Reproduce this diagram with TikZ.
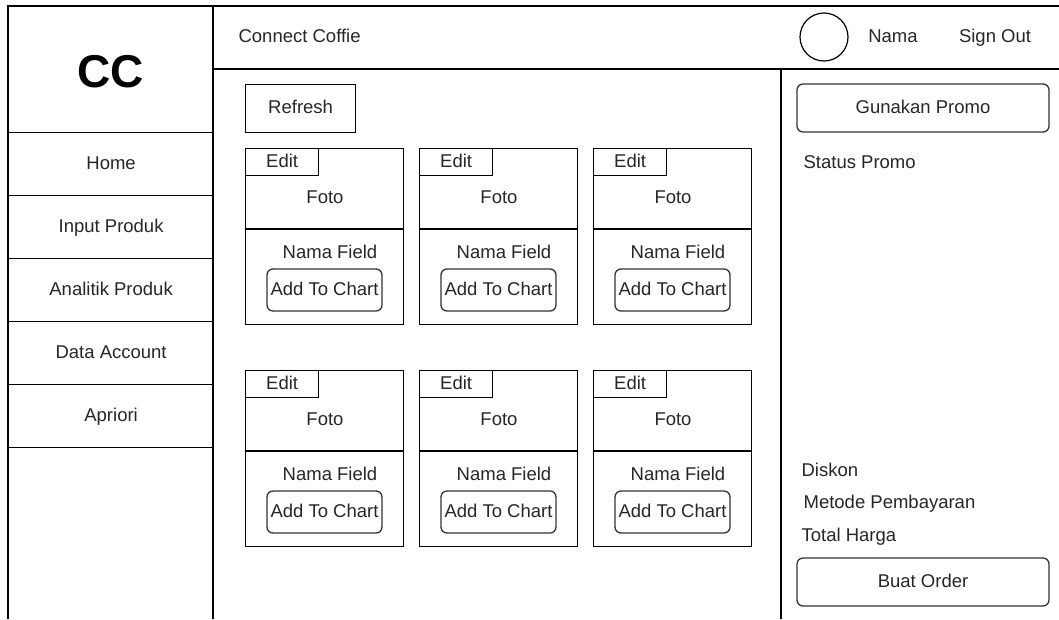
\documentclass[tikz,border=0pt]{standalone}
\usepackage{fontspec}
\setmainfont{Liberation Sans}
\usetikzlibrary{calc}
\begin{document}
\begin{tikzpicture}[x=1pt, y=-1pt, line width=1.2pt,
  ui/.style={font=\fontsize{18.5}{20}\selectfont, text=black!85, text height=13.5pt, text depth=3.5pt},
  lbl/.style={ui, inner sep=0pt},
  frame/.style={draw, ui, inner sep=0pt, anchor=north west},
  menuitem/.style={frame, minimum width=205pt, minimum height=63pt},
  btn/.style={draw=black!80, ui, inner sep=0pt, rounded corners=6pt, line width=1.3pt},
  card/.style={frame, minimum width=158pt, minimum height=176pt},
  tab/.style={frame, minimum width=73pt, minimum height=27pt, fill=white}]
\useasboundingbox (0,0) rectangle (1059,619);

% page frame
\coordinate (tl) at (8,6);
\coordinate (bl) at (8,619);
\coordinate (tr) at (1059,6);
\coordinate (sbt) at (213,6);
\coordinate (sbb) at (213,619);
\coordinate (hdl) at (213,69);
\coordinate (hdr) at (1059,69);
\coordinate (rpt) at (781,69);
\coordinate (rpb) at (781,619);
\draw (bl) -- (tl) -- (tr);
\draw (sbt) -- (sbb);
\draw (hdl) -- (hdr);
\draw (rpt) -- (rpb);

% sidebar
\node[font=\fontsize{46}{48}\selectfont\bfseries, inner sep=0pt] (logo) at (110.5,72) {CC};
\node[menuitem] (home)   at (8,132) {Home};
\node[menuitem] (input)  at (8,195) {Input Produk};
\node[menuitem] (anal)   at (8,258) {Analitik Produk};
\node[menuitem] (data)   at (8,321) {Data Account};
\node[menuitem] (apri)   at (8,384) {Apriori};

% header
\node[lbl, anchor=west] (title) at (238,37) {Connect Coffie};
\node[draw, circle, minimum size=48pt, inner sep=0pt] (avatar) at (824,37) {};
\node[lbl] (nama) at (893,37) {Nama};
\node[lbl] (signout) at (995,37) {Sign Out};

% product area
\node[frame, minimum width=110pt, minimum height=48pt] (refresh) at (245,84) {Refresh};

\foreach \r/\y in {1/148, 2/370} {
  \foreach \c/\x in {1/245, 2/419, 3/593} {
    \node[card] (card\r\c) at (\x,\y) {};
    \node[tab] (edit\r\c) at (\x,\y) {Edit};
    \draw ($(card\r\c.north west)+(0,81)$) -- ($(card\r\c.north east)+(0,81)$);
    \node[lbl] (foto\r\c) at ($(card\r\c.north west)+(80,50)$) {Foto};
    \node[lbl] (field\r\c) at ($(card\r\c.north west)+(85,105)$) {Nama Field};
    \node[btn, minimum width=115pt, minimum height=42pt] (add\r\c)
      at ($(card\r\c.north west)+(79.5,142)$) {Add To Chart};
  }
}

% order panel
\node[btn, minimum width=252pt, minimum height=48pt] (promo) at (923,108) {Gunakan Promo};
\node[lbl, anchor=west] (status) at (803,163) {Status Promo};
\node[lbl, anchor=west] (diskon) at (801,471) {Diskon};
\node[lbl, anchor=west] (metode) at (803,503) {Metode Pembayaran};
\node[lbl, anchor=west] (total) at (801,536) {Total Harga};
\node[btn, minimum width=252pt, minimum height=48pt] (order) at (923,582) {Buat Order};
\end{tikzpicture}
\end{document}
